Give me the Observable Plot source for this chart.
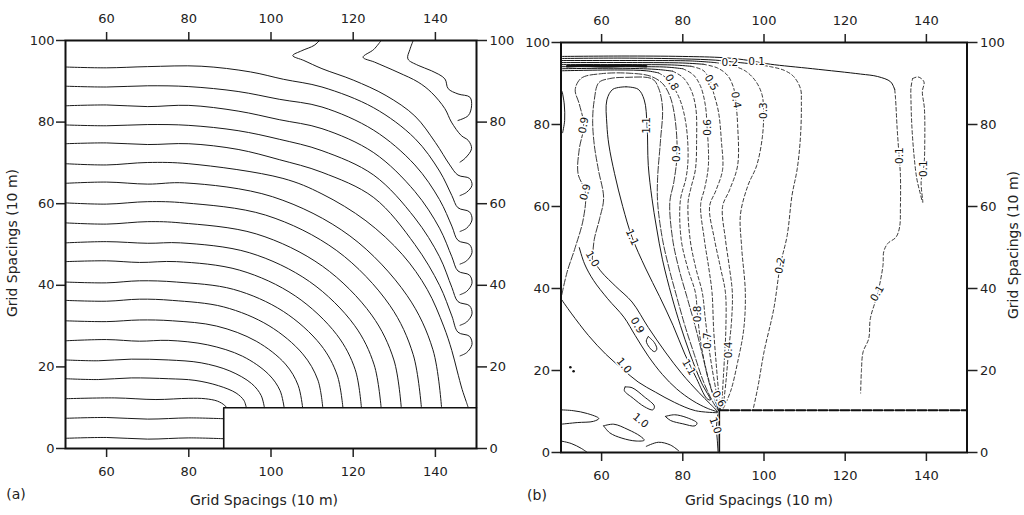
<!DOCTYPE html>
<html><head><meta charset="utf-8">
<script src="https://cdn.jsdelivr.net/npm/d3@7"></script>
<script src="https://cdn.jsdelivr.net/npm/@observablehq/plot@0.6"></script>
<style>
html,body{margin:0;padding:0;background:#fff;}
#wrap{position:relative;width:1024px;height:515px;overflow:hidden;font-family:"DejaVu Sans",sans-serif;color:#222;}
.panel{position:absolute;top:0;height:515px;}
.t{position:absolute;font-size:14px;white-space:nowrap;transform:translate(-50%,-50%);}
.r{transform:translate(-50%,-50%) rotate(-90deg);}
</style></head><body>
<div id="wrap">
  <div id="pa" class="panel" style="left:0;width:540px"></div>
  <div id="pb" class="panel" style="left:512px;width:512px"></div>
  <div class="t" style="left:16px;top:494px">(a)</div>
  <div class="t" style="left:537px;top:495px">(b)</div>
  <div class="t" style="left:264px;top:500px">Grid Spacings (10 m)</div>
  <div class="t" style="left:759px;top:500px">Grid Spacings (10 m)</div>
  <div class="t r" style="left:12px;top:243px">Grid Spacings (10 m)</div>
  <div class="t r" style="left:1013px;top:245px">Grid Spacings (10 m)</div>
</div>
<script>
const xTicks = [60, 80, 100, 120, 140];
const yTicks = [0, 20, 40, 60, 80, 100];

// Panel (a): contour lines as [x, y] in grid spacings
const aContours = [
  [[50,2.5],[60,2.7],[70,2.3],[80,2.6],[88.5,2.4]],
  [[50,7.4],[60,7.6],[70,7.2],[80,7.5],[88.5,7.3]],
  [[50,12.2],[62,12.4],[72,12.0],[80,12.3],[84,12.2],[87,11.6],[88.7,10.6],[89.2,10]],
  [[50,17.1],[58,16.9],[66,17.3],[75,17.1],[81.5,16.7],[87.2,15.4],[91.5,13.6],[93.4,11.8],[94,10]],
  [[50,21.7],[58,21.5],[66,21.9],[75,21.7],[83,21.0],[90,19.0],[95.3,15.9],[97.6,13.0],[98.4,10]],
  [[50,26.4],[60,26.7],[68,26.3],[75,26.5],[84.6,25.4],[93.1,22.6],[99.4,18.2],[102.2,14.2],[103.2,10]],
  [[50,31.3],[60,31.1],[68,31.5],[76,31.3],[86.8,30.0],[96.4,26.3],[103.5,20.7],[106.6,15.5],[107.7,10]],
  [[50,36.3],[60,36.1],[68,36.6],[76,36.3],[88.5,34.7],[99.5,30.1],[107.7,23.2],[111.4,16.8],[112.6,10]],
  [[50,40.8],[60,40.6],[68,41.1],[77,40.8],[90.9,39.0],[103,33.6],[112.1,25.4],[116.1,18.0],[117.5,10]],
  [[50,45.8],[60,46.0],[68,45.6],[77,45.8],[92.4,43.7],[105.9,37.4],[116,27.9],[120.5,19.3],[122,10]],
  [[50,50.4],[60,50.7],[70,50.3],[78,50.4],[94.7,48.0],[109.4,40.9],[120.3,30.2],[125.1,20.5],[126.8,10]],
  [[50,55.3],[60,55.0],[70,55.6],[78,55.3],[96.4,52.6],[112.5,44.7],[124.5,32.7],[129.9,21.7],[131.7,10]],
  [[50,60.2],[60,59.9],[70,60.5],[79,60.2],[98.7,57.2],[116,48.5],[128.9,35.1],[134.6,23.0],[136.6,10]],
  [[50,65],[60,65.3],[70,64.8],[79,65.1],[100.4,61.7],[119.2,52.1],[133.1,37.5],[139.4,24.2],[141.5,10]],
  [[50,69.8],[60,69.5],[70,70.1],[80,69.8],[102.9,66.2],[112.4,62.4],[123.1,55.8],[132,47.5],[138,39],[142,30],[144,24],[145.3,19],[146.5,14.5],[147.5,11.5],[148,10]],
  [[50,74.7],[60,74.9],[70,74.5],[80,74.7],[92,73.3],[102,70.8],[112.4,67.7],[125,61.5],[135,50],[141,40],[144,32.5],[145.5,28.5],[148.3,27.5],[148.9,25.5],[147.6,23.5],[146,22.7]],
  [[50,79.3],[60,79.1],[70,79.4],[80,79.2],[92,77.9],[102,75.8],[112.4,73],[125,67],[135,56.5],[141,47],[144,39.5],[145.5,36],[148.3,35],[148.9,33],[147.6,31],[146,30.2]],
  [[50,84],[60,84.2],[70,83.8],[80,84.1],[92,82.7],[102,80.6],[112.4,78.4],[125,72.5],[135,63],[141,54],[144,47],[145.5,43.5],[148.3,42.5],[148.9,40.5],[147.6,38.5],[146,37.7]],
  [[50,88.8],[60,88.6],[70,88.9],[80,88.7],[92,87.5],[102,85.6],[112.4,83.7],[125,78],[135,69.5],[141,61],[144,54.5],[145.5,51],[148.3,50],[148.9,48],[147.6,46],[146,45.2]],
  [[50,93.5],[60,93.3],[70,93.6],[83,93.7],[95,92.3],[103,90.5],[112.4,88.6],[125,83.5],[135,76],[141,68],[144,62],[145.5,59],[148.3,58],[148.9,56],[147.6,54],[146,53.2]],
  [[111.8,100],[110.5,98.8],[107.5,97.5],[105.3,96.3],[108,95.1],[112.4,93.1],[120,90.3],[128,86.5],[135,81.5],[140,75],[143.5,69.5],[145.5,67],[148.3,66.2],[148.9,64.5],[147.6,62.8],[146,62]],
  [[126.8,100],[125,97.8],[122.4,95.9],[125.2,94.7],[130.9,92.2],[135.8,89.8],[139,87.3],[142.3,83.3],[143.9,80],[146.3,76.7],[148,75.5],[148.8,73.5],[147.3,71.2],[146,70.2]],
  [[134.6,100],[133.8,97.8],[133.3,95.5],[135.8,93.9],[139,92.6],[142.3,90.6],[143.1,88.2],[145.5,86.9],[148.4,86.1],[148.8,84],[148,81.6],[145.5,80.4]]
];
const aObstacle = [[88.5,0],[88.5,10],[150,10]];

// Panel (b)
const bBand = [
  [[50,96.6],[65,96.7],[80,96.6],[90,96.3],[95,95.8],[98,95.3],[101.6,94.7],[112,93.6],[123.8,92.3],[128,91.7],[131.2,90.4],[132.2,88.5]],
  [[50,96.1],[65,96.2],[80,96.0],[88,95.7],[92,95.3],[97,94.8]],
  [[50,95.6],[70,95.6],[82,95.5],[88,95.1]],
  [[50,95.1],[70,95.1],[80,95.0],[85,94.7]],
  [[50,94.6],[70,94.6],[78,94.5],[82,94.2]],
  [[50,94.1],[68,94.1],[76,94.0],[80,93.6]],
  [[50,93.6],[66,93.7],[74,93.4],[77.5,93.0]],
  [[50,93.1],[64,93.3],[71,93.1],[74,92.6]]
];
const bBlob = [[51.5,94.2],[56,94.4],[61,94.2],[66,94.4],[71,94.2]];
const bFan = [
  [[132.2,88.5],[132.4,86.3],[132.8,79],[133.3,72],[133.6,67.6],[133.6,60],[133.4,55],[132.5,52.5],[130.5,51],[129.5,49],[129.3,45.6],[128,38.8],[126.2,32.7],[125.8,27.8],[124.4,24.5],[124,20],[123.8,14.5]],
  [[136.6,91.2],[138,91.6],[139.4,90.4],[139,88],[139.5,84],[139.6,76],[139.4,70],[138.7,66],[139.1,61],[138.4,63.5],[137.6,67],[136.9,73],[136.4,80],[136.2,86],[136.2,89],[136.6,91.2]],
  [[97,94.8],[101.6,94.1],[105,93.2],[107.3,91.7],[109,88.7],[109.2,85.5],[109,77.3],[108.2,69.3],[106.9,62.7],[105.7,52.9],[104,45.6],[102.4,35],[100,24.5],[98.5,16],[97.3,10.4]],
  [[88,95.1],[92,94.4],[95.5,93],[98,90.5],[99.5,87.3],[99.9,83.4],[99.6,77],[98.2,70],[96,65],[94.2,58],[94.5,50],[95.4,39],[95,30],[93.5,22],[91.8,15],[90,10.8]],
  [[85,94.7],[88.5,93.8],[91,92],[92.5,89],[93,86],[93.5,80],[93.5,70],[91.5,64],[89.8,60],[90.5,52],[91.5,45],[92.2,39],[92,32],[91.3,25],[90.6,17],[89.9,10.8]],
  [[82,94.2],[85,93.2],[86.5,91.2],[87.5,88],[88.8,83],[89.5,76],[89.8,69],[88.2,64],[86.6,60],[87.8,52],[89.3,45],[90.5,39],[90.6,30],[90.2,22],[89.8,15],[89.6,10.6]],
  [[80,93.6],[82.5,92.2],[84.3,89.5],[85.5,85],[86,79.3],[86.3,70],[85.4,64.5],[84.4,60.5],[85.3,52],[86.4,45],[87.2,39],[87.6,30],[88.2,22],[88.8,15],[89.3,10.5]],
  [[77.5,93.0],[80,91.5],[82,88.5],[83.2,84],[83.4,76],[83.1,69],[82,64.5],[81.3,61],[81.8,52],[83.2,45],[84.8,39],[85.5,33],[86.2,27.3],[87.3,20],[88.4,14],[89.1,10.4]],
  [[74,92.6],[76,91.3],[77.8,89],[79.5,85.5],[80.8,80],[81.3,72],[80.8,67],[79.4,61.5],[79.6,52],[81.2,45],[83.1,39],[83.6,33.8],[84.4,27],[85.8,20],[87.5,14],[88.8,10.3]]
];
const bArches = [
  [[50.2,38.5],[51.5,44],[53.5,50],[55.5,57],[56,63.5],[54.2,68],[54.5,74],[55.6,79.8],[54.5,85],[53.5,88.5],[55,91.3],[60,92.4],[67,92.5],[72,91.8],[75,90],[76.8,87],[78,82],[78.6,73],[77.8,66],[76.8,61],[77.5,52],[79,45],[81,38],[83,31],[84.8,24],[86.5,17],[88.2,12],[88.9,10.2]],
  [[57.7,47.2],[58.2,52],[59.5,57],[60.5,62],[59.2,69],[58.2,75],[57.8,81],[58.2,86],[59.3,90.2],[62,91.2],[66,91.5],[72.5,91.1],[74.1,88.7],[75,84],[74.5,76],[73.8,67],[73.8,61],[75,52],[76.6,45],[78.5,38],[80.5,31],[82.8,24],[85.2,17],[87.6,12],[88.8,10.2]]
];
const bInner = [
  [[66,89.2],[69,88.6],[70.5,86],[71.2,79.8],[71.5,70],[72.4,62],[73.5,55],[75,47],[77.3,38],[79.4,31],[81.8,24],[84.6,17],[86.8,12.8],[85.9,13.2],[83.4,18],[80.5,24],[77.6,31],[74.3,38],[70.8,45],[67.5,52.5],[65.2,60],[63.2,68],[61.8,75],[61.3,80],[61.3,86],[62.8,88.6],[66,89.2]],
  [[50,37.5],[52.5,34],[56.8,28.5],[61,24],[65.1,20.4],[69,17.2],[73.3,14.7],[78,12.2],[83.1,10.2],[88.5,9.7]],
  [[57.7,47.2],[60,44],[63.5,40.5],[67.5,36.7],[71.5,30.5],[75.7,24.5],[79.8,19.2],[83.9,14.7],[86.8,11.8],[88.6,10]],
  [[54.5,50],[55.8,46],[58,42],[61.5,37.5],[65.5,33],[68.3,28.5],[71.5,23.5],[75,19],[78.5,15.5],[82.5,12.6],[86,10.8],[88.6,9.9]],
  [[71.5,28.3],[73,26.8],[73.6,25.2],[73,24.6],[71.8,25.6],[71,27.2],[71.5,28.3]],
  [[65.8,16],[67.5,15.8],[70.5,13.6],[73,11.3],[72.6,10.4],[70.5,11.2],[67.8,13.2],[65.6,15.1],[65.8,16]],
  [[75.7,8.8],[78,9.2],[81,8.5],[83.5,7.2],[83,6.5],[80,7],[77,7.8],[75.7,8.8]],
  [[60.5,6.5],[63,6.9],[66.5,5.6],[69.5,4],[70.5,3],[68.5,2.8],[65,3.5],[62,4.8],[60.5,6.5]],
  [[50,10.4],[53,10.2],[56.5,9.5],[59.3,8.3],[58,7.6],[54,7.3],[50,6.9]],
  [[50,2.8],[52.5,2.2],[55,1],[56.5,0]],
  [[71,1.5],[74,2.5],[77,1.8],[79,0.4]],
  [[88.6,9.2],[88.3,6],[88.5,3],[88.7,0]],
  [[50.3,88],[50.8,85],[50.9,81],[50.4,78]]
];
const bDots = [[52.3,20.8],[53.1,19.8]];
const bWall = [[89,0],[89,10.3]];
const bRoof = [[89,10.3],[150,10.3]];

const bLabelText  = ["0.2","0.1","0.8","0.5","0.4","0.3","0.9","1.1","0.6","0.9","0.9","1.1","1.0","0.2","0.1","0.1","0.1","0.8","0.7","0.9","1.0","1.1","0.4","0.6","1.0","1.0"];
const bLabelX     = [91.6,98.2,77.3,87.0,93.1,99.9,55.6,71.2,86.0,78.6,56.0,67.5,57.7,104.0,133.3,139.4,127.9,83.6,86.2,68.8,65.5,81.5,91.3,88.9,69.6,88.0];
const bLabelY     = [95.2,95.4,90.3,90.2,86.0,83.4,79.8,79.8,79.3,72.9,63.5,52.5,47.2,45.6,72.4,69.2,38.8,33.8,27.3,31.0,21.2,20.8,25.0,13.1,7.8,6.6];
const bLabelAngle = [0,0,60,60,80,-90,-80,-90,-90,-90,-75,65,60,-80,-90,-90,-60,-90,-90,60,50,60,-90,60,40,70];

function rows(lines) {
  const out = [];
  lines.forEach((pts, i) => pts.forEach(([x, y]) => out.push({x, y, id: i})));
  return out;
}
const pt = {x: d => d[0], y: d => d[1]};

function axes() {
  return [
    Plot.axisX({anchor: "bottom", ticks: xTicks, tickSize: 9, tickPadding: 9, label: null, strokeWidth: 1.5}),
    Plot.axisX({anchor: "top", ticks: xTicks, tickSize: 9, tickPadding: 9, label: null, strokeWidth: 1.5}),
    Plot.axisY({anchor: "left", ticks: yTicks, tickSize: 9, tickPadding: 2, label: null, strokeWidth: 1.5}),
    Plot.axisY({anchor: "right", ticks: yTicks, tickSize: 10, tickPadding: 3, label: null, strokeWidth: 1.5}),
    Plot.frame({stroke: "#111", strokeWidth: 2})
  ];
}
const baseStyle = {fontFamily: "DejaVu Sans, sans-serif", fontSize: "13px", color: "#222", background: "transparent", overflow: "visible"};

const plotA = Plot.plot({
  width: 540, height: 515,
  marginLeft: 65, marginRight: 64, marginTop: 40, marginBottom: 67,
  x: {domain: [50, 150]}, y: {domain: [0, 100]},
  style: baseStyle,
  marks: [
    Plot.line(rows(aContours), {x: "x", y: "y", z: "id", curve: "catmull-rom", stroke: "#1a1a1a", strokeWidth: 1}),
    Plot.line(aObstacle, {...pt, stroke: "#111", strokeWidth: 1.6}),
    ...axes()
  ]
});
document.getElementById("pa").appendChild(plotA);

const plotB = Plot.plot({
  width: 512, height: 515,
  marginLeft: 48.5, marginRight: 57.5, marginTop: 42, marginBottom: 63,
  x: {domain: [50, 150]}, y: {domain: [0, 100]},
  style: baseStyle,
  marks: [
    Plot.line(rows(bBand), {x: "x", y: "y", z: "id", curve: "catmull-rom", stroke: "#111", strokeWidth: 1}),
    Plot.line(bBlob, {...pt, curve: "catmull-rom", stroke: "#111", strokeWidth: 2.6}),
    Plot.line(rows(bFan), {x: "x", y: "y", z: "id", curve: "catmull-rom", stroke: "#222", strokeWidth: 0.9, strokeDasharray: "3.5,2.5"}),
    Plot.line(rows(bArches), {x: "x", y: "y", z: "id", curve: "catmull-rom", stroke: "#222", strokeWidth: 0.9, strokeDasharray: "7,2"}),
    Plot.line(rows(bInner), {x: "x", y: "y", z: "id", curve: "catmull-rom", stroke: "#1a1a1a", strokeWidth: 1}),
    Plot.dot(bDots, {...pt, r: 1.3, fill: "#111", stroke: null}),
    Plot.line(bWall, {...pt, stroke: "#111", strokeWidth: 1.6}),
    Plot.line(bRoof, {...pt, stroke: "#111", strokeWidth: 1.8, strokeDasharray: "9,2"}),
    Plot.text(bLabelText, {
      x: (d, i) => bLabelX[i], y: (d, i) => bLabelY[i], text: d => d,
      rotate: (d, i) => bLabelAngle[i],
      fontSize: 10.5, fill: "#111", stroke: "white", strokeWidth: 3
    }),
    ...axes()
  ]
});
document.getElementById("pb").appendChild(plotB);
</script>
</body></html>
